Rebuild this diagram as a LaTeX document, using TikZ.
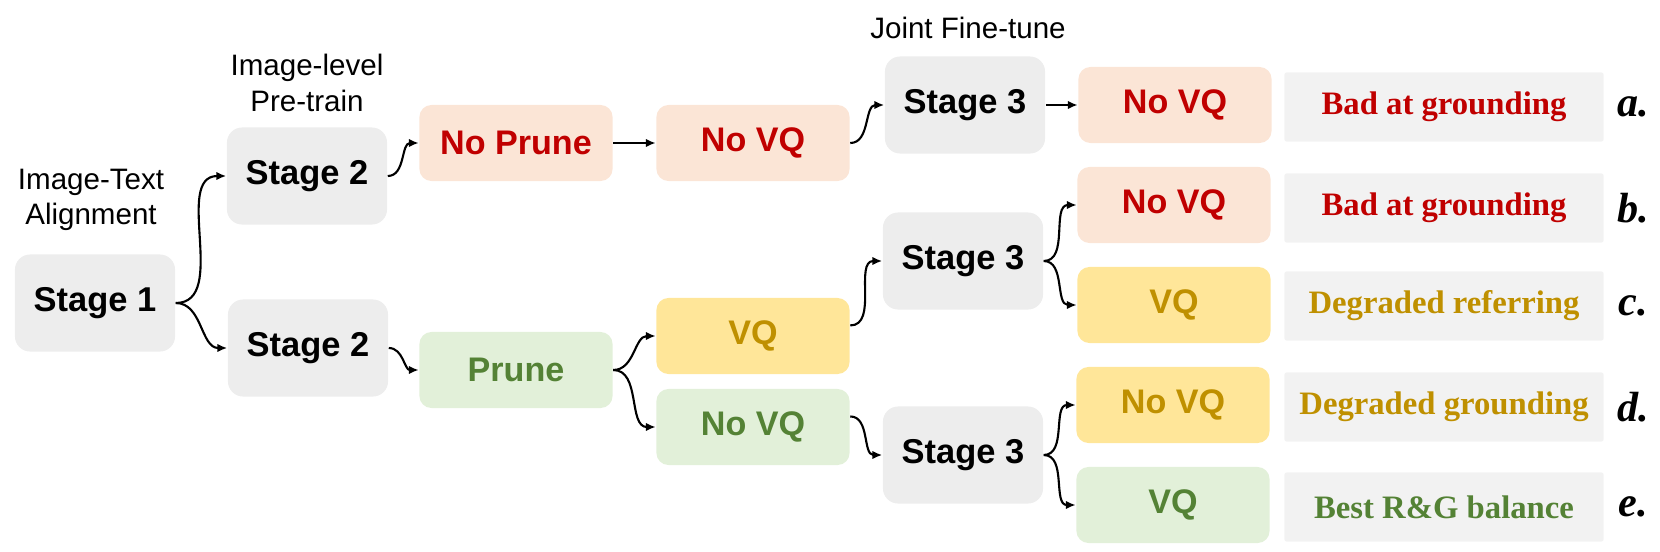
\documentclass[tikz,border=0pt]{standalone}
\usepackage{fontspec}
\setmainfont{Liberation Serif}
\setsansfont{Liberation Sans}
\usetikzlibrary{arrows.meta}
\definecolor{stagegray}{HTML}{EDEDED}
\definecolor{resgray}{HTML}{F2F2F2}
\definecolor{peach}{HTML}{FBE5D6}
\definecolor{lightgold}{HTML}{FFE699}
\definecolor{lightgreen}{HTML}{E2F0D9}
\definecolor{darkred}{HTML}{C00000}
\definecolor{darkgold}{HTML}{BF9000}
\definecolor{darkgreen}{HTML}{548235}
\begin{document}
\begin{tikzpicture}[x=0.01cm,y=-0.01cm,
    stagebox/.style={rounded corners=4.3pt,fill=stagegray,inner sep=0pt,minimum width=1.6cm,minimum height=0.97cm,font=\sffamily\bfseries\fontsize{9.8}{11}\selectfont},
    choicebox/.style={rounded corners=3.4pt,inner sep=0pt,minimum width=1.93cm,minimum height=0.76cm,font=\sffamily\bfseries\fontsize{9.7}{11}\selectfont},
    resultbox/.style={rounded corners=0.6pt,fill=resgray,inner sep=0pt,minimum width=3.19cm,minimum height=0.69cm,font=\bfseries\fontsize{9.3}{11}\selectfont},
    caselabel/.style={font=\bfseries\itshape\fontsize{12}{14}\selectfont},
    phase/.style={align=center,font=\sffamily\fontsize{8.4}{10}\selectfont},
    link/.style={-{Latex[length=2.8pt,width=2.4pt]},line width=0.6pt}]
    \useasboundingbox (0,0) rectangle (1660,551);
    % stages
    \node[stagebox] (s1)  at (95,303)  {Stage 1};
    \node[stagebox] (s2a) at (307,176) {Stage 2};
    \node[stagebox] (s2b) at (308,348) {Stage 2};
    \node[stagebox] (s3a) at (965,105) {Stage 3};
    \node[stagebox] (s3b) at (963,261) {Stage 3};
    \node[stagebox] (s3c) at (963,455) {Stage 3};
    \node[phase] (ita) at (91,200)  {Image-Text\\Alignment};
    \node[phase] (ilp) at (307,83)  {Image-level\\Pre-train};
    \node[phase] (jft) at (968,28)  {Joint Fine-tune};
    % choices
    \node[choicebox,fill=peach,text=darkred]       (noprune) at (516,143) {No Prune};
    \node[choicebox,fill=peach,text=darkred]       (novqa)   at (753,143) {No VQ};
    \node[choicebox,fill=lightgreen,text=darkgreen] (prune)  at (516,370) {Prune};
    \node[choicebox,fill=lightgold,text=darkgold]  (vqm)     at (753,336) {VQ};
    \node[choicebox,fill=lightgreen,text=darkgreen] (novqg)  at (753,427) {No VQ};
    \node[choicebox,fill=peach,text=darkred]       (ra) at (1175,105) {No VQ};
    \node[choicebox,fill=peach,text=darkred]       (rb) at (1174,205) {No VQ};
    \node[choicebox,fill=lightgold,text=darkgold]  (rc) at (1174,305) {VQ};
    \node[choicebox,fill=lightgold,text=darkgold]  (rd) at (1173,405) {No VQ};
    \node[choicebox,fill=lightgreen,text=darkgreen] (re) at (1173,505) {VQ};
    % outcomes
    \node[resultbox,text=darkred]   (oa) at (1444,107) {Bad at grounding};
    \node[resultbox,text=darkred]   (ob) at (1444,208) {Bad at grounding};
    \node[resultbox,text=darkgold]  (oc) at (1444,306) {Degraded referring};
    \node[resultbox,text=darkgold]  (od) at (1444,407) {Degraded grounding};
    \node[resultbox,text=darkgreen] (oe) at (1444,507) {Best R\&G balance};
    \node[caselabel] (la) at (1633,107) {a.};
    \node[caselabel] (lb) at (1633,208) {b.};
    \node[caselabel] (lc) at (1633,306) {c.};
    \node[caselabel] (ld) at (1633,407) {d.};
    \node[caselabel] (le) at (1633,507) {e.};
    % links
    \draw[link] (s1.east) to[out=0,in=180] (s2a.west);
    \draw[link] (s1.east) to[out=0,in=180] (s2b.west);
    \draw[link] (s2a.east) to[out=0,in=180] (noprune.west);
    \draw[link] (s2b.east) to[out=0,in=180] (prune.west);
    \draw[link] (noprune) -- (novqa);
    \draw[link] (prune.east) to[out=0,in=180] (vqm.west);
    \draw[link] (prune.east) to[out=0,in=180] (novqg.west);
    \draw[link] (novqa.east) to[out=0,in=180] (s3a.west);
    \draw[link] ([yshift=3pt]vqm.east) to[out=0,in=180] (s3b.west);
    \draw[link] ([yshift=3pt]novqg.east) to[out=0,in=180] (s3c.west);
    \draw[link] (s3a) -- (ra);
    \draw[link] (s3b.east) to[out=0,in=180] (rb.west);
    \draw[link] (s3b.east) to[out=0,in=180] (rc.west);
    \draw[link] (s3c.east) to[out=0,in=180] (rd.west);
    \draw[link] (s3c.east) to[out=0,in=180] (re.west);
\end{tikzpicture}
\end{document}
